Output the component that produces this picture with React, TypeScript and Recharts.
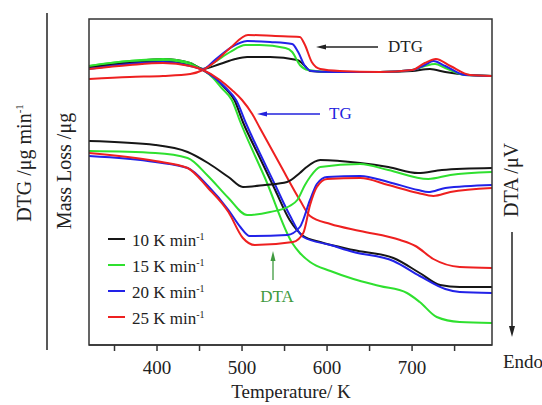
import React from 'react';
import { LineChart, Line, XAxis, YAxis } from 'recharts';

// temperature (K) and signal (arbitrary units)
const tempTicks = [350, 400, 450, 500, 550, 600, 650, 700, 750];
const labelledTicks = [400, 500, 600, 700];
const rates = ['10', '15', '20', '25'];
const rateColors = ['#161616', '#2fe02f', '#2222e8', '#ee2020'];

const dtg10 = [[320, 278], [368, 283], [407, 286], [439, 282], [454, 276], [474, 281], [492, 286], [506, 288], [533, 288], [565, 285], [574, 279], [580, 274], [604, 273], [662, 273], [700, 274], [721, 276], [739, 273], [768, 270], [794, 269]];
const dtg15 = [[320, 279], [368, 284], [407, 286], [439, 282], [454, 276], [468, 283], [486, 293], [504, 300], [521, 300], [551, 297], [559, 293], [568, 280], [578, 275], [604, 273], [662, 273], [700, 275], [715, 279], [727, 281], [739, 277], [762, 270], [794, 269]];
const dtg20 = [[320, 277], [368, 282], [407, 284], [439, 280], [454, 276], [468, 285], [486, 297], [506, 304], [533, 303], [559, 301], [566, 293], [574, 279], [582, 274], [604, 273], [662, 273], [700, 275], [715, 280], [725, 284], [739, 279], [762, 270], [794, 269]];
const dtg25 = [[320, 266], [368, 268], [407, 269], [439, 271], [454, 275], [468, 283], [486, 297], [507, 310], [539, 309], [568, 308], [574, 300], [582, 283], [592, 276], [615, 274], [662, 273], [700, 275], [715, 282], [728, 286], [745, 279], [768, 270], [794, 269]];

const tg10 = [[320, 278], [368, 282], [407, 284], [439, 281], [454, 275], [468, 267], [480, 257], [491, 245], [501, 223], [521, 187], [539, 155], [556, 125], [572, 109], [592, 103], [631, 95], [678, 87], [709, 72], [733, 60], [756, 58], [794, 58]];
const tg15 = [[320, 279], [368, 284], [407, 285], [439, 281], [454, 275], [466, 267], [476, 257], [488, 245], [498, 223], [528, 165], [559, 102], [568, 92], [580, 83], [604, 74], [631, 66], [662, 59], [694, 52], [709, 43], [729, 28], [756, 23], [794, 22]];
const tg20 = [[320, 276], [368, 281], [407, 283], [439, 279], [454, 275], [468, 267], [481, 257], [493, 245], [505, 221], [539, 160], [556, 130], [572, 108], [604, 100], [631, 93], [678, 84], [709, 69], [739, 56], [756, 53], [794, 52]];
const tg25 = [[320, 276], [368, 280], [407, 282], [439, 279], [454, 275], [474, 265], [488, 255], [500, 245], [512, 231], [521, 217], [545, 180], [568, 145], [580, 129], [604, 121], [639, 114], [686, 105], [704, 99], [725, 86], [756, 78], [794, 77]];

const dta10 = [[320, 204], [398, 200], [436, 193], [460, 182], [484, 168], [501, 158], [527, 160], [553, 163], [568, 172], [576, 178], [592, 185], [639, 182], [672, 178], [707, 172], [735, 175], [794, 177]];
const dta15 = [[320, 194], [398, 192], [436, 187], [460, 169], [484, 147], [506, 130], [533, 133], [556, 139], [565, 145], [574, 160], [580, 168], [592, 178], [639, 181], [672, 175], [719, 166], [745, 170], [794, 173]];
const dta20 = [[320, 189], [398, 183], [436, 177], [460, 159], [484, 135], [498, 118], [509, 109], [553, 110], [568, 118], [580, 145], [588, 161], [600, 168], [639, 169], [672, 163], [707, 155], [719, 153], [739, 157], [794, 160]];
const dta25 = [[320, 192], [398, 184], [436, 177], [460, 157], [484, 133], [501, 107], [515, 100], [560, 103], [572, 112], [580, 140], [588, 158], [600, 166], [639, 167], [672, 160], [707, 152], [725, 149], [745, 153], [794, 157]];

const toPts = (arr) => arr.map(([t, v]) => ({ t, v }));

const dtgSets = [dtg10, dtg15, dtg20, dtg25];
const tgSets = [tg10, tg15, tg20, tg25];
const dtaSets = [dta10, dta15, dta20, dta25];

const FONT = '"Liberation Serif", "Times New Roman", serif';

const RateLegend = () => (
  <div style={{ position: 'absolute', left: 108, top: 226, fontFamily: FONT, fontSize: 17, color: '#222', lineHeight: '26px' }}>
    {rates.map((r, i) => (
      <div key={r} style={{ display: 'flex', alignItems: 'center', height: 26 }}>
        <span style={{ display: 'inline-block', width: 17, height: 2.5, background: rateColors[i], marginRight: 7 }} />
        <span>
          {r} K min<sup style={{ fontSize: 10, verticalAlign: 6 }}>-1</sup>
        </span>
      </div>
    ))}
  </div>
);

export default function App() {
  return (
    <div style={{ position: 'absolute', left: 0, top: 0, width: 542, height: 405, background: '#fff' }}>
      <LineChart width={542} height={405} margin={{ top: 19, right: 50, bottom: 30, left: 89 }}>
        <XAxis
          type="number"
          dataKey="t"
          domain={[320, 794]}
          ticks={tempTicks}
          allowDataOverflow
          height={30}
          tickSize={6}
          tickMargin={10}
          tickFormatter={(v) => (labelledTicks.includes(v) ? String(v) : '')}
          tick={{ fontFamily: FONT, fontSize: 19, fill: '#222' }}
          axisLine={{ stroke: '#333', strokeWidth: 1.5 }}
          tickLine={{ stroke: '#333', strokeWidth: 1.5 }}
        />
        <YAxis type="number" domain={[0, 326]} hide allowDataOverflow />
        {dtgSets.map((d, i) => (
          <Line key={'dtg' + i} data={toPts(d)} dataKey="v" type="monotone" stroke={rateColors[i]}
            strokeWidth={2} dot={false} isAnimationActive={false} name={'dtg' + i} />
        ))}
        {tgSets.map((d, i) => (
          <Line key={'tg' + i} data={toPts(d)} dataKey="v" type="monotone" stroke={rateColors[i]}
            strokeWidth={2} dot={false} isAnimationActive={false} name={'tg' + i} />
        ))}
        {dtaSets.map((d, i) => (
          <Line key={'dta' + i} data={toPts(d)} dataKey="v" type="monotone" stroke={rateColors[i]}
            strokeWidth={2} dot={false} isAnimationActive={false} name={rates[i]} />
        ))}
      </LineChart>
      <RateLegend />
      <svg width={542} height={405} style={{ position: 'absolute', left: 0, top: 0, pointerEvents: 'none' }}>
        <rect x={89} y={19} width={403} height={326} fill="none" stroke="#333" strokeWidth={1.5} />
        <line x1={47} y1={13} x2={47} y2={350} stroke="#222" strokeWidth={1.5} />
        <text transform="translate(31,163) rotate(-90)" textAnchor="middle" fontFamily={FONT} fontSize={20} fill="#222">
          DTG /μg min<tspan dy={-8} fontSize={11}>-1</tspan>
        </text>
        <text transform="translate(71,171) rotate(-90)" textAnchor="middle" fontFamily={FONT} fontSize={20} fill="#222">
          Mass Loss /μg
        </text>
        <text transform="translate(518,180) rotate(-90)" textAnchor="middle" fontFamily={FONT} fontSize={20} fill="#222">
          DTA /μV
        </text>
        <line x1={512} y1={232} x2={512} y2={328} stroke="#222" strokeWidth={1.5} />
        <polygon points="512,337 509,326 515,326" fill="#222" />
        <text x={503} y={368} fontFamily={FONT} fontSize={19} fill="#222">Endo</text>
        <text x={291} y={398} textAnchor="middle" fontFamily={FONT} fontSize={19} fill="#222">Temperature/ K</text>

        <line x1={323} y1={47} x2={378} y2={47} stroke="#222" strokeWidth={1.3} />
        <polygon points="316,47 326,44.5 326,49.5" fill="#222" />
        <text x={388} y={52} fontFamily={FONT} fontSize={17} fill="#222">DTG</text>

        <line x1={264} y1={114} x2={320} y2={114} stroke="#2222dd" strokeWidth={1.3} />
        <polygon points="257,114 267,111.5 267,116.5" fill="#2222dd" />
        <text x={329} y={119} fontFamily={FONT} fontSize={17} fill="#2222dd">TG</text>

        <line x1={273} y1={258} x2={273} y2={280} stroke="#3f9a3f" strokeWidth={1.3} />
        <polygon points="273,251 270.5,261 275.5,261" fill="#3f9a3f" />
        <text x={277} y={302} textAnchor="middle" fontFamily={FONT} fontSize={17} fill="#3f9a3f">DTA</text>
      </svg>
    </div>
  );
}
